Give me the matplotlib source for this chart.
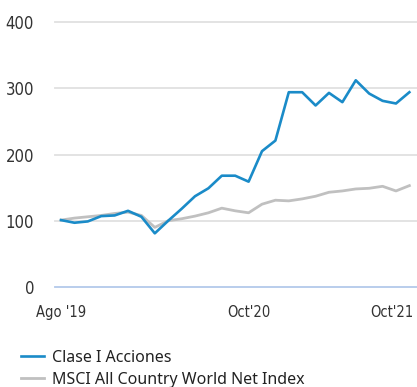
import matplotlib
matplotlib.use("Agg")
import matplotlib.pyplot as plt
from matplotlib import font_manager
import matplotlib.transforms as mtransforms

# monthly values, Aug 2019 .. Oct 2021, rebased to 100
clase_i = [101, 97, 99, 107, 108, 115, 106, 81, 100, 118, 137, 149, 168, 168, 159,
           205, 221, 294, 294, 274, 293, 279, 312, 292, 281, 277, 294]
msci_acwi = [101, 104, 106, 108, 111, 113, 108, 90, 100, 103, 107, 112, 119, 115, 112,
             125, 131, 130, 133, 137, 143, 145, 148, 149, 152, 145, 153]
series_names = ["Clase I Acciones", "MSCI All Country World Net Index"]
tick_pos = [0, 14, 26]
tick_text = ["Ago '19", "Oct'20", "Oct'21"]
y_ticks = [0, 100, 200, 300, 400]

BLUE = "#1a8bc8"
GREY = "#c0c0c0"

# condensed face for the axis numbers
tick_font = font_manager.FontProperties(family="DejaVu Sans", stretch="condensed", size=12)

fig = plt.figure(figsize=(4.17, 3.87), dpi=100)
ax = fig.add_axes([55 / 417, 100 / 387, 362 / 417, 265 / 387])

x = list(range(len(clase_i)))
ax.plot(x, msci_acwi, color=GREY, lw=2.0, solid_joinstyle="round", label=series_names[1], zorder=3)
ax.plot(x, clase_i, color=BLUE, lw=1.9, solid_joinstyle="round", label=series_names[0], zorder=4)

ax.set_xlim(-0.45, 26.57)
ax.set_ylim(0, 400)

for v in y_ticks[1:]:
    ax.axhline(v, color="#e0e0e0", lw=1.3, zorder=1, clip_on=False)
ax.axhline(0, color="#b3c9ea", lw=1.3, zorder=1, clip_on=False)

for s in ax.spines.values():
    s.set_visible(False)

ax.set_yticks(y_ticks)
ax.set_yticklabels([str(v) for v in y_ticks], fontproperties=tick_font, color="#333333")
ax.set_xticks(tick_pos)
xfont = tick_font.copy()
xfont.set_size(10.5)
labels = ax.set_xticklabels(tick_text, fontproperties=xfont, color="#333333")
ax.tick_params(axis="both", length=0)
ax.tick_params(axis="y", pad=15)
ax.tick_params(axis="x", pad=13)

# last label sits against the right edge
labels[-1].set_horizontalalignment("right")
labels[-1].set_transform(labels[-1].get_transform() +
                         mtransforms.ScaledTranslation(3 / 72, 0, fig.dpi_scale_trans))

handles, lbls = ax.get_legend_handles_labels()
leg = fig.legend(handles[::-1], lbls[::-1], loc="upper left", bbox_to_anchor=(21 / 417, 1 - 350 / 387),
                 frameon=False, handlelength=1.45, handletextpad=0.5,
                 labelspacing=0.35, borderpad=0, borderaxespad=0,
                 prop={"family": "Noto Sans", "size": 11.5})
for t in leg.get_texts():
    t.set_color("#222222")

fig.savefig("out.png", dpi=100)
